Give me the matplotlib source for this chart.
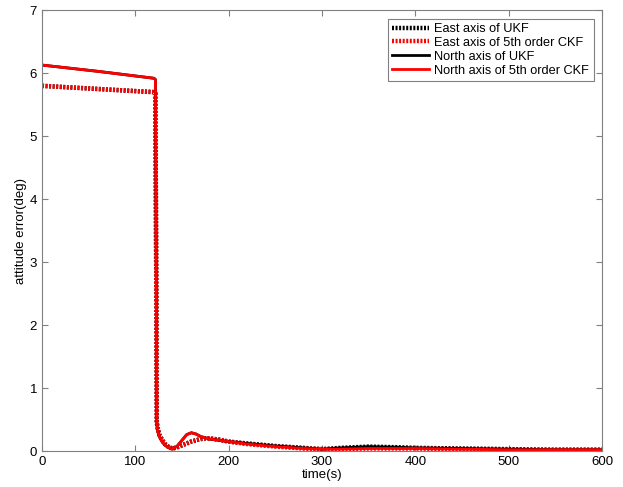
import matplotlib
matplotlib.use("Agg")
import matplotlib.pyplot as plt

plt.rcParams['font.family'] = ['Liberation Sans', 'DejaVu Sans']

# time samples (s)
t = [0, 60, 120, 121.5, 122.5, 123, 124, 126, 129, 132, 136, 140, 145, 150, 155,
     160, 165, 170, 175, 180, 190, 200, 220, 250, 280, 300, 320, 350, 380, 400,
     450, 500, 550, 600]

east_ukf = [5.80, 5.75, 5.70, 5.68, 2.5, 0.45, 0.36, 0.25, 0.17, 0.11, 0.06, 0.04, 0.06,
            0.09, 0.12, 0.15, 0.17, 0.19, 0.20, 0.20, 0.18, 0.15, 0.12, 0.08, 0.05, 0.03,
            0.05, 0.07, 0.06, 0.05, 0.04, 0.03, 0.02, 0.02]
east_ckf = [5.80, 5.75, 5.70, 5.68, 2.5, 0.45, 0.36, 0.25, 0.17, 0.11, 0.06, 0.04, 0.06,
            0.09, 0.12, 0.15, 0.17, 0.19, 0.20, 0.20, 0.18, 0.15, 0.11, 0.07, 0.04, 0.03,
            0.03, 0.04, 0.04, 0.04, 0.03, 0.02, 0.02, 0.02]
north_ukf = [6.13, 6.03, 5.92, 5.90, 2.6, 0.42, 0.33, 0.22, 0.14, 0.09, 0.05, 0.03, 0.08,
             0.17, 0.26, 0.29, 0.27, 0.23, 0.21, 0.19, 0.17, 0.15, 0.12, 0.08, 0.05, 0.03,
             0.05, 0.07, 0.06, 0.05, 0.04, 0.03, 0.02, 0.02]
north_ckf = [6.13, 6.03, 5.92, 5.90, 2.6, 0.42, 0.33, 0.22, 0.14, 0.09, 0.05, 0.03, 0.08,
             0.17, 0.26, 0.29, 0.27, 0.23, 0.21, 0.19, 0.17, 0.15, 0.11, 0.07, 0.04, 0.03,
             0.03, 0.04, 0.04, 0.04, 0.03, 0.02, 0.02, 0.02]

labels = ["East axis of UKF", "East axis of 5th order CKF",
          "North axis of UKF", "North axis of 5th order CKF"]

fig = plt.figure(figsize=(6.23, 4.87), dpi=100)
ax = fig.add_axes([0.0674, 0.0739, 0.8989, 0.905])

fine_dot = (0, (0.45, 0.35))
ax.plot(t, east_ukf, color='black', linestyle=fine_dot, linewidth=3.2,
        dash_capstyle='butt', label=labels[0])
ax.plot(t, east_ckf, color='red', linestyle=fine_dot, linewidth=3.2,
        dash_capstyle='butt', label=labels[1])
ax.plot(t, north_ukf, color='black', linestyle='-', linewidth=2.0, label=labels[2])
ax.plot(t, north_ckf, color='red', linestyle='-', linewidth=2.0, label=labels[3])

ax.set_xlim(0, 600)
ax.set_ylim(0, 7)
ax.set_xticks([0, 100, 200, 300, 400, 500, 600])
ax.set_yticks(range(0, 8))
ax.tick_params(direction='in', top=True, right=True, labelsize=9.5, length=4,
               color='#808080')
for s in ax.spines.values():
    s.set_color('#808080')
ax.set_xlabel('time(s)', fontsize=9.5, labelpad=1)
ax.set_ylabel('attitude error(deg)', fontsize=9.5, labelpad=2)

leg = ax.legend(loc='upper right', fontsize=9.2, fancybox=False, framealpha=1,
                edgecolor='#808080', borderpad=0.35, labelspacing=0.15,
                handlelength=2.9, handletextpad=0.4, borderaxespad=0.65)
leg.get_frame().set_linewidth(0.8)

fig.savefig('out.png', dpi=100)
